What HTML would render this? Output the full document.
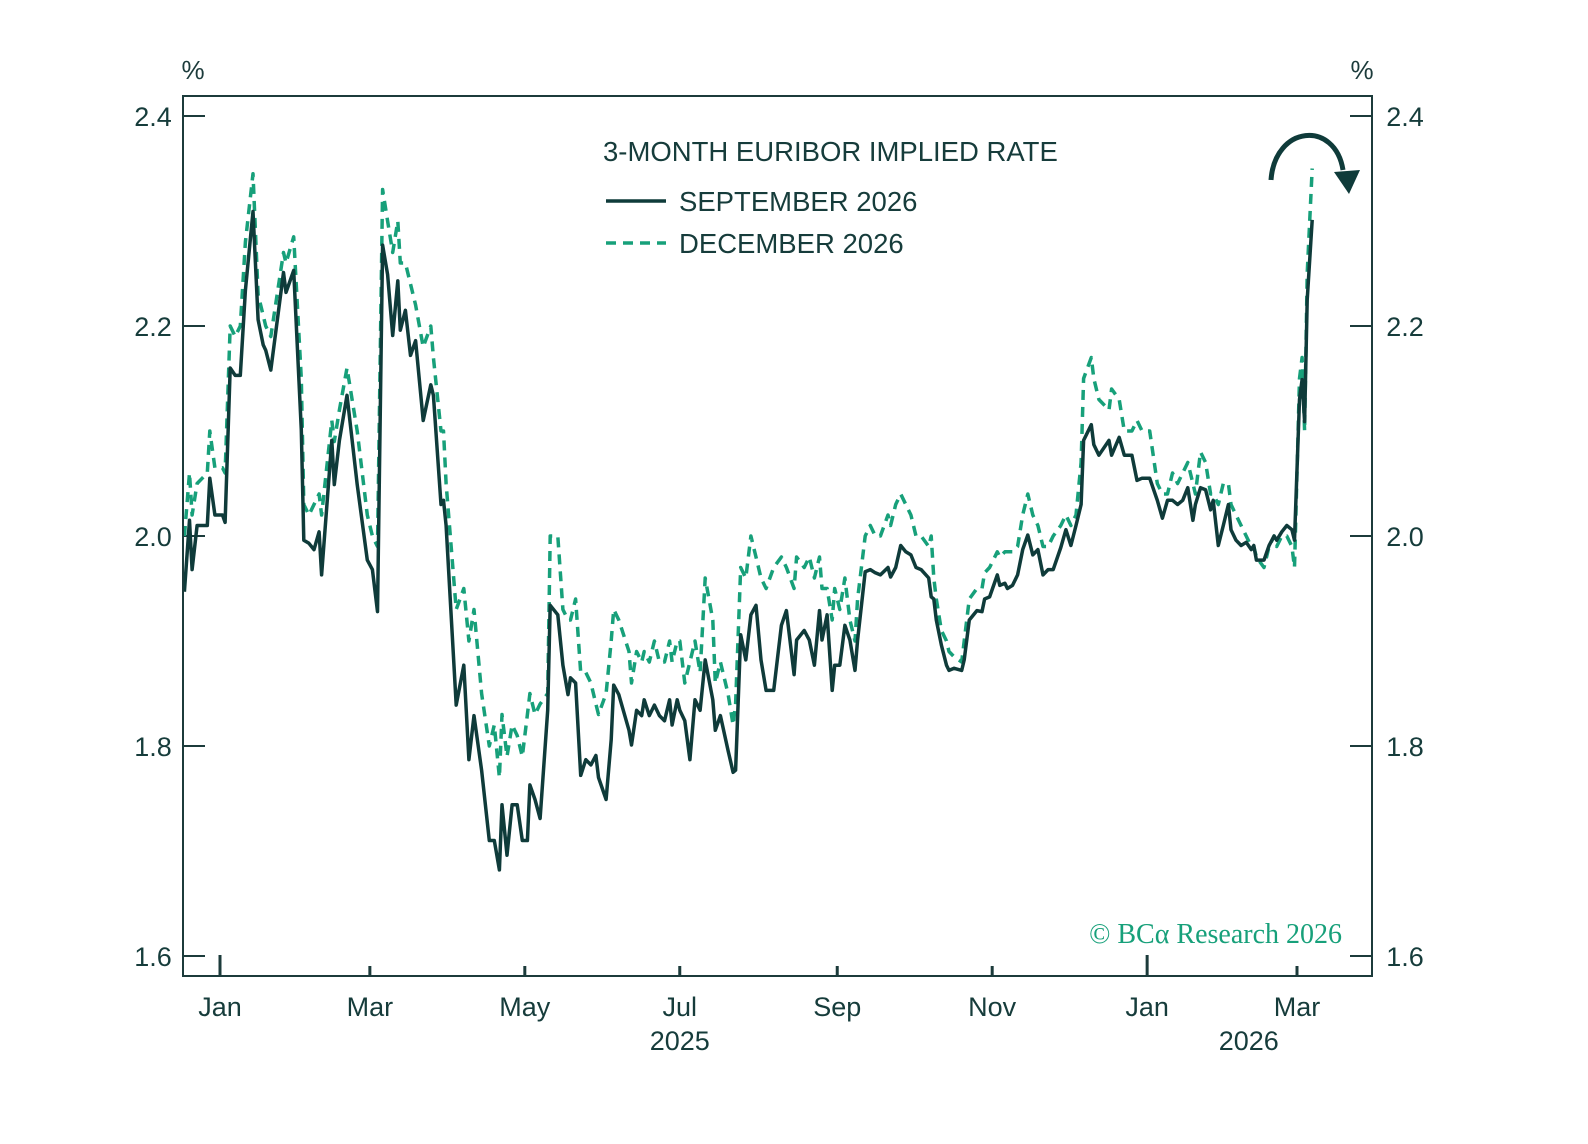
<!DOCTYPE html>
<html><head><meta charset="utf-8">
<style>
html,body{margin:0;padding:0;background:#fff;}
svg{display:block;font-family:"Liberation Sans",sans-serif;}
</style></head>
<body>
<svg id="chart" width="1588" height="1144" viewBox="0 0 1588 1144">
<rect x="0" y="0" width="1588" height="1144" fill="#fff"/>
<g id="grid"></g>
<g id="series"></g>
<rect x="183" y="96" width="1189" height="880" fill="none" stroke="#1c3b3b" stroke-width="2"/>
<text x="193" y="79" font-size="26" fill="#1c3b3b" text-anchor="middle">%</text>
<text x="1362" y="79" font-size="26" fill="#1c3b3b" text-anchor="middle">%</text>
<text x="603" y="161" font-size="27.5" fill="#163c3b">3-MONTH EURIBOR IMPLIED RATE</text>
<g>
<g>
<line x1="606" y1="201" x2="666" y2="201" stroke="#0f3b3a" stroke-width="3.5"/>
<text x="679" y="211" font-size="27.5" fill="#163c3b">SEPTEMBER 2026</text></g>
<g>
<line x1="606" y1="243" x2="666" y2="243" stroke="#17a07a" stroke-width="3.5" stroke-dasharray="10 7"/>
<text x="679" y="253" font-size="27.5" fill="#163c3b">DECEMBER 2026</text></g>
</g>
<text x="1342" y="943" font-size="28" fill="#17a07a" text-anchor="end" font-family="Liberation Serif, serif">© BCα Research 2026</text>
<g>
<path d="M1271,180 C1275,125 1335,120 1343,170" fill="none" stroke="#0f3b3a" stroke-width="5"/>
<path d="M1334,172 L1349,194 L1360,170 Z" fill="#0f3b3a"/>
</g>
</svg>
<script>
const days = [-14,-12,-11,-9,-5,-4,-2,1,2,4,6,8,10,13,15,17,18,20,25,26,29,32,33,35,37,39,40,44,45,47,50,54,58,60,62,64,66,68,70,71,73,75,77,80,83,84,87,88,89,93,96,98,100,103,106,108,110,111,113,115,117,119,121,122,124,126,129,130,133,135,137,138,140,142,144,146,148,149,152,154,155,157,161,162,164,166,167,169,171,173,175,177,178,180,181,183,185,187,189,191,194,195,197,200,202,203,205,207,209,211,213,215,218,221,223,226,227,230,232,234,236,237,239,241,242,244,246,248,250,251,254,256,258,260,263,264,266,268,270,272,274,276,279,280,281,282,284,286,287,289,292,293,295,298,300,301,303,304,306,307,309,310,312,314,316,318,320,322,324,326,328,331,333,335,337,339,340,343,344,346,350,351,354,356,359,361,363,366,369,371,373,375,377,379,381,383,384,386,388,390,391,393,395,397,398,400,402,404,406,407,408,411,413,415,416,418,420,422,423,425,426,427,428,430];
const sep2026 = [1.947,2.015,1.968,2.01,2.01,2.055,2.02,2.02,2.013,2.16,2.153,2.153,2.234,2.309,2.206,2.182,2.177,2.158,2.251,2.232,2.253,2.101,1.996,1.993,1.987,2.004,1.963,2.091,2.049,2.091,2.134,2.049,1.977,1.968,1.928,2.277,2.249,2.191,2.243,2.196,2.215,2.172,2.186,2.11,2.144,2.134,2.03,2.034,2.01,1.839,1.877,1.787,1.829,1.777,1.71,1.71,1.682,1.744,1.696,1.744,1.744,1.71,1.71,1.763,1.749,1.731,1.834,1.934,1.925,1.877,1.849,1.865,1.86,1.772,1.787,1.782,1.791,1.77,1.749,1.806,1.858,1.849,1.815,1.801,1.834,1.829,1.844,1.829,1.839,1.829,1.824,1.844,1.82,1.844,1.834,1.824,1.787,1.844,1.834,1.882,1.844,1.815,1.829,1.796,1.775,1.777,1.906,1.882,1.925,1.934,1.882,1.853,1.853,1.915,1.929,1.868,1.901,1.91,1.901,1.877,1.929,1.901,1.925,1.853,1.877,1.877,1.915,1.901,1.872,1.901,1.966,1.968,1.965,1.963,1.97,1.961,1.97,1.991,1.985,1.982,1.97,1.968,1.96,1.942,1.94,1.92,1.896,1.877,1.872,1.874,1.872,1.882,1.92,1.929,1.928,1.94,1.942,1.949,1.963,1.953,1.955,1.95,1.953,1.963,1.987,2.001,1.982,1.987,1.963,1.968,1.968,1.989,2.006,1.991,2.01,2.03,2.091,2.106,2.087,2.077,2.091,2.077,2.094,2.077,2.077,2.053,2.055,2.055,2.034,2.017,2.034,2.034,2.03,2.034,2.046,2.015,2.03,2.046,2.044,2.025,2.034,1.991,2.01,2.03,2.006,1.996,1.991,1.994,1.987,1.991,1.977,1.977,1.991,2.0,1.996,2.004,2.01,2.006,1.996,2.13,2.149,2.109,2.225,2.301];
const dec2026 = [2.0,2.06,2.02,2.05,2.06,2.1,2.065,2.065,2.06,2.2,2.19,2.2,2.28,2.345,2.23,2.21,2.2,2.19,2.27,2.26,2.285,2.15,2.03,2.02,2.03,2.04,2.02,2.11,2.09,2.12,2.16,2.1,2.02,2.0,1.99,2.33,2.3,2.27,2.3,2.26,2.26,2.24,2.22,2.18,2.2,2.17,2.1,2.1,2.05,1.93,1.95,1.9,1.93,1.85,1.8,1.82,1.77,1.83,1.79,1.82,1.81,1.79,1.83,1.85,1.83,1.84,1.85,2.0,2.0,1.93,1.92,1.92,1.94,1.87,1.87,1.86,1.84,1.83,1.85,1.9,1.93,1.92,1.89,1.86,1.89,1.88,1.89,1.88,1.9,1.88,1.88,1.9,1.88,1.9,1.9,1.86,1.88,1.9,1.87,1.96,1.92,1.86,1.88,1.85,1.82,1.84,1.97,1.96,2.0,1.98,1.96,1.95,1.97,1.98,1.97,1.95,1.98,1.97,1.98,1.96,1.98,1.95,1.95,1.92,1.95,1.93,1.96,1.92,1.9,1.94,2.0,2.01,2.0,2.0,2.02,2.01,2.03,2.04,2.03,2.02,2.0,2.0,1.99,2.0,1.96,1.94,1.91,1.9,1.89,1.885,1.88,1.9,1.94,1.95,1.95,1.965,1.97,1.975,1.985,1.98,1.985,1.985,1.985,1.99,2.02,2.04,2.02,2.01,1.99,1.99,2.0,2.01,2.02,2.01,2.02,2.07,2.15,2.17,2.15,2.13,2.12,2.14,2.13,2.1,2.1,2.11,2.1,2.1,2.05,2.04,2.04,2.06,2.05,2.06,2.07,2.05,2.04,2.08,2.07,2.04,2.04,2.03,2.05,2.05,2.03,2.02,2.01,2.0,1.99,1.99,1.98,1.97,1.99,2.0,1.99,2.0,2.0,1.99,1.97,2.15,2.17,2.1,2.25,2.35];
const yTicks = [1.6,1.8,2.0,2.2,2.4];
const yTickLabels = ["1.6","1.8","2.0","2.2","2.4"];
const monthTickDays = [0,59,120,181,243,304,365,424];
const monthLabels = ["Jan","Mar","May","Jul","Sep","Nov","Jan","Mar"];
const yearLabels = ["2025","2026"];
const yearLabelDays = [181,405];

const X = d => 220 + d * (1077 / 424);
const Y = v => 956 - (v - 1.6) * 1050;
const NS = "http://www.w3.org/2000/svg";
const grid = document.getElementById('grid');
const ser = document.getElementById('series');
function mk(tag, attrs, parent){const e=document.createElementNS(NS,tag);for(const k in attrs)e.setAttribute(k,attrs[k]);parent.appendChild(e);return e;}

yTicks.forEach((v,i)=>{
  const y = Y(v);
  const tl = mk('line',{x1:183,x2:205,y1:y,y2:y,stroke:'#1c3b3b','stroke-width':2},grid);
  
  
  const tr = mk('line',{x1:1350,x2:1372,y1:y,y2:y,stroke:'#1c3b3b','stroke-width':2},grid);
  
  
  const a = mk('text',{x:153,y:y+10,'font-size':27,fill:'#163c3b','text-anchor':'middle'},grid);
  a.textContent = yTickLabels[i];
  
  
  const b = mk('text',{x:1405,y:y+10,'font-size':27,fill:'#163c3b','text-anchor':'middle'},grid);
  b.textContent = yTickLabels[i];
  
  
});
monthTickDays.forEach((d,i)=>{
  const x = X(d);
  const long = monthLabels[i]==='Jan';
  const t = mk('line',{x1:x,x2:x,y1:long?955:966,y2:976,stroke:'#1c3b3b','stroke-width':3},grid);
  
  
  const l = mk('text',{x:x,y:1016,'font-size':27,fill:'#163c3b','text-anchor':'middle'},grid);
  l.textContent = monthLabels[i];
  
  
});
yearLabels.forEach((s,i)=>{
  const l = mk('text',{x:X(yearLabelDays[i]),y:1050,'font-size':27,fill:'#163c3b','text-anchor':'middle'},grid);
  l.textContent = s;
  
  
});
function pathOf(vals){return vals.map((v,i)=>(i?'L':'M')+X(days[i]).toFixed(1)+','+Y(v).toFixed(1)).join(' ');}
const dl = mk('path',{d:pathOf(dec2026),fill:'none',stroke:'#17a07a','stroke-width':3.5,'stroke-dasharray':'10 7','stroke-linejoin':'round'},ser);


const sl = mk('path',{d:pathOf(sep2026),fill:'none',stroke:'#0f3b3a','stroke-width':3.5,'stroke-linejoin':'round'},ser);


</script>
</body></html>
